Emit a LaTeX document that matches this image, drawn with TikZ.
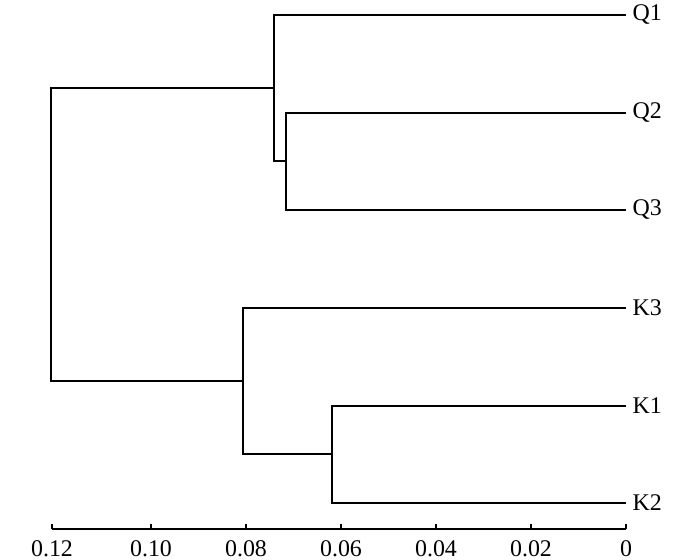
\documentclass[tikz,border=0pt]{standalone}
\usepackage{fontspec}
\setmainfont{Liberation Serif}
\begin{document}
\begin{tikzpicture}[x=0.025cm, y=-0.025cm, line width=1.4pt,
  leaf/.style={anchor=west, inner sep=4pt, font=\fontsize{17}{20}\selectfont},
  ticklabel/.style={inner sep=0pt, font=\fontsize{17}{20}\selectfont}]
  \useasboundingbox (0,0) rectangle (700,560);

  % leaves
  \node[leaf] (q1) at (626,15) {Q1};
  \node[leaf] (q2) at (626,113) {Q2};
  \node[leaf] (q3) at (626,210) {Q3};
  \node[leaf] (k3) at (626,308) {K3};
  \node[leaf] (k1) at (626,406) {K1};
  \node[leaf] (k2) at (626,503) {K2};

  % joins
  \coordinate (q23) at (286,161);
  \coordinate (qq) at (274,88);
  \coordinate (k12) at (332,454);
  \coordinate (kk) at (243,381);
  \coordinate (root) at (51,88);

  \draw (q2.west) -| (q23) |- (q3.west);
  \draw (q1.west) -| (qq) |- (q23);
  \draw (k1.west) -| (k12) |- (k2.west);
  \draw (k3.west) -| (kk) |- (k12);
  \draw (qq) -| (root) |- (kk);

  % axis
  \draw[line width=1pt] (52,529) coordinate (ax0) -- (626,529) coordinate (ax1);
  \foreach \px/\lab in {52/0.12, 151/0.10, 246/0.08, 341/0.06, 436/0.04, 531/0.02, 626/0} {
    \draw[line width=1pt] (\px,529) -- (\px,524);
    \node[ticklabel] at (\px,549) {\lab};
  }
\end{tikzpicture}
\end{document}
